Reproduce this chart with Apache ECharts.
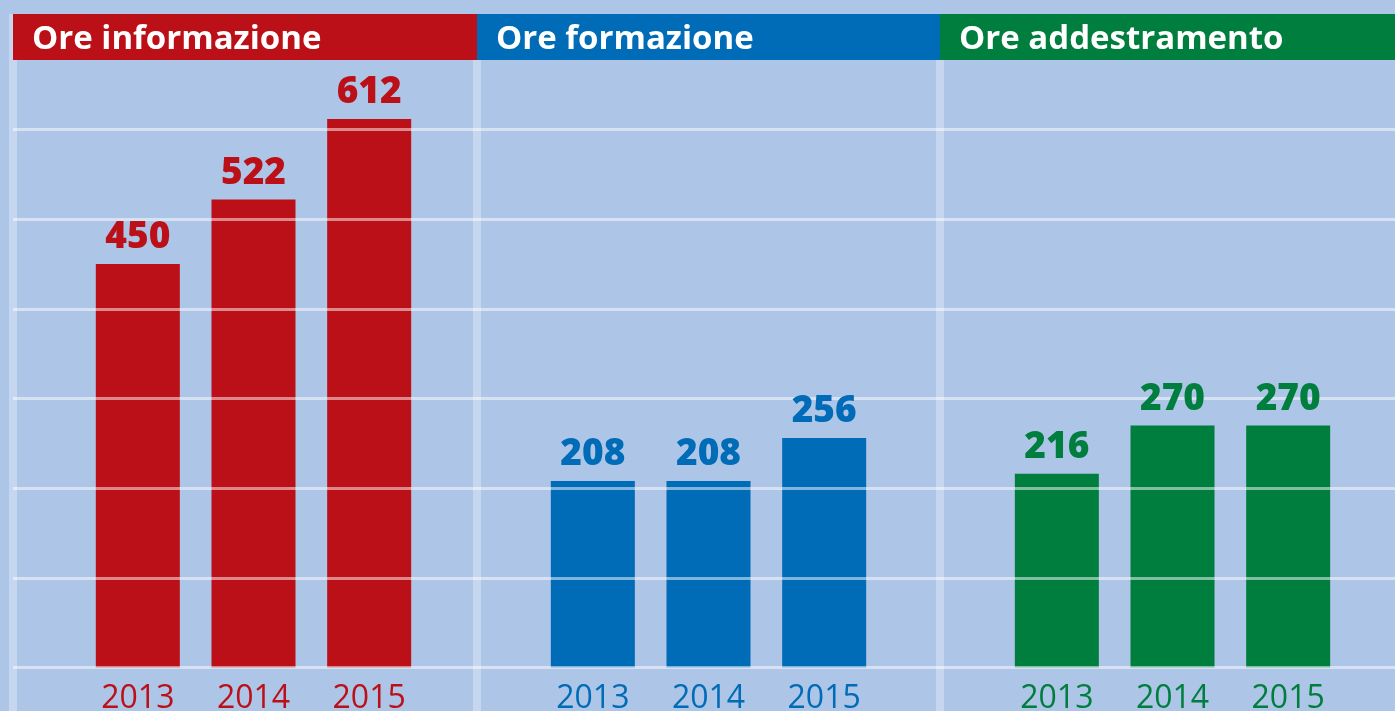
<!DOCTYPE html>
<html>
<head>
<meta charset="utf-8">
<title>Ore informazione / formazione / addestramento</title>
<script src="https://cdn.jsdelivr.net/npm/echarts@6/dist/echarts.min.js"></script>
<style>
html,body{margin:0;padding:0;background:#adc5e6;}
#main{width:1395px;height:711px;}
</style>
</head>
<body>
<div id="main"></div>
<script>
// dati
var years = ["2013", "2014", "2015"];
var oreInformazione = [450, 522, 612];
var oreFormazione = [208, 208, 256];
var oreAddestramento = [216, 270, 270];
var titoli = ["Ore informazione", "Ore formazione", "Ore addestramento"];
var colori = ["#bc1019", "#006bb6", "#007e3e"];

var FONT = "'Open Sans', 'DejaVu Sans', sans-serif";
var TOP = 40, BOTTOM = 43.5;

// posizione dei tre pannelli (px)
var pannelli = [
	{left: 80, right: 968, x0: 13, x1: 477},
	{left: 535, right: 513, x0: 477, x1: 940},
	{left: 999, right: 49, x0: 940, x1: 1395}
];
var valori = [oreInformazione, oreFormazione, oreAddestramento];

function buildOption(){
	var grid = [{left: 13, right: 0, top: TOP, bottom: BOTTOM, outerBoundsMode: "none"}];
	var xAxis = [{gridIndex: 0, type: "value", show: false, min: 0, max: 1}];
	var yAxis = [{
		gridIndex: 0, type: "value", min: 0, max: 700, interval: 100, z: 3,
		axisLine: {show: false}, axisTick: {show: false}, axisLabel: {show: false},
		splitLine: {show: true, lineStyle: {color: "rgba(255,255,255,0.5)", width: 3}}
	}];
	var series = [];
	var graphic = [];

	//separatori verticali
	var stripes = [9, 473, 936];
	for(var s=0;s<stripes.length;s++){
		graphic.push({type: "rect", z: 1, shape: {x: stripes[s], y: 14, width: 8, height: 711}, style: {fill: "#c6d6ee"}});
	}

	for(var i=0;i<pannelli.length;i++){
		var p = pannelli[i];
		grid.push({left: p.left, right: p.right, top: TOP, bottom: BOTTOM, outerBoundsMode: "none"});
		xAxis.push({
			gridIndex: i+1, type: "category", data: years,
			axisLine: {show: false}, axisTick: {show: false}, splitLine: {show: false},
			axisLabel: {color: colori[i], fontFamily: FONT, fontSize: 32, margin: 15}
		});
		yAxis.push({gridIndex: i+1, type: "value", min: 0, max: 700, show: false, splitLine: {show: false}});
		//barre (sotto le linee della griglia)
		series.push({
			type: "bar", name: titoli[i], xAxisIndex: i+1, yAxisIndex: i+1,
			data: valori[i], barWidth: 84, z: 2,
			itemStyle: {color: colori[i]}
		});
		//etichette dei valori (sopra le linee)
		series.push({
			type: "bar", name: titoli[i] + " etichette", xAxisIndex: i+1, yAxisIndex: i+1,
			data: valori[i], barWidth: 84, barGap: "-100%", z: 5, silent: true,
			itemStyle: {color: "rgba(0,0,0,0)"},
			label: {show: true, position: "top", distance: 8, color: colori[i], fontFamily: FONT, fontWeight: 800, fontSize: 37}
		});
		//intestazione
		graphic.push({type: "rect", z: 10, shape: {x: p.x0, y: 14, width: p.x1 - p.x0, height: 46}, style: {fill: colori[i]}});
		graphic.push({
			type: "text", z: 11, x: p.x0 + 19, y: 40,
			style: {text: titoli[i], fill: "#ffffff", font: "bold 33px " + FONT, textVerticalAlign: "middle"}
		});
	}

	return {
		backgroundColor: "#adc5e6",
		animation: false,
		grid: grid, xAxis: xAxis, yAxis: yAxis, series: series, graphic: graphic
	};
}

var myChart = echarts.init(document.getElementById("main"));
myChart.setOption(buildOption());
</script>
</body>
</html>
